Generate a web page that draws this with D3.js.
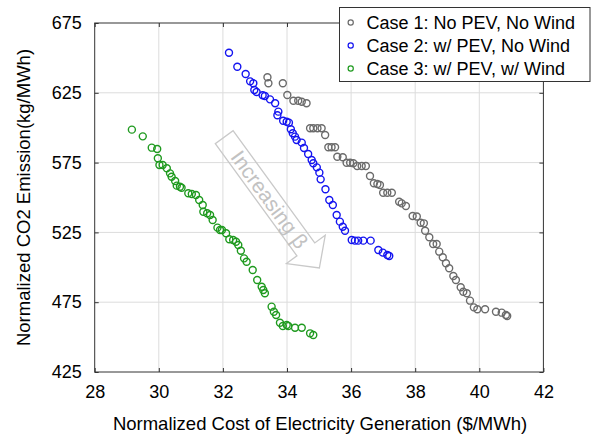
<!DOCTYPE html>
<html>
<head>
<meta charset="utf-8">
<script src="https://cdn.jsdelivr.net/npm/d3@7"></script>
<style>
  html, body { margin: 0; padding: 0; background: #fff; }
  svg { display: block; font-family: "Liberation Sans", Arial, sans-serif; }
</style>
</head>
<body>
<svg id="chart" width="597" height="437"></svg>
<script>
// Normalized cost ($/MWh) and CO2 emission (kg/MWh) for the three cases
const case1Cost = [33.39, 33.42, 33.87, 34.01, 34.20, 34.35, 34.46, 34.61, 34.72, 34.82, 34.95, 35.08, 35.19, 35.29, 35.39, 35.50, 35.57, 35.74, 35.86, 35.97, 36.07, 36.19, 36.33, 36.46, 36.59, 36.71, 36.82, 36.90, 37.00, 37.13, 37.27, 37.50, 37.58, 37.71, 37.92, 38.05, 38.17, 38.27, 38.31, 38.44, 38.56, 38.67, 38.75, 38.86, 38.96, 39.06, 39.19, 39.27, 39.42, 39.50, 39.61, 39.71, 39.83, 39.94, 40.18, 40.52, 40.70, 40.83, 40.87];
const case1Emission = [636.1, 631.8, 631.8, 623.4, 619.3, 619.3, 618.6, 617.5, 599.6, 599.6, 599.6, 599.6, 594.8, 586.0, 586.0, 586.0, 579.2, 578.8, 574.9, 574.9, 574.5, 572.6, 572.6, 572.6, 565.4, 560.2, 559.7, 559.0, 553.4, 553.4, 553.4, 547.0, 545.8, 543.9, 536.7, 536.4, 531.9, 531.5, 526.2, 521.5, 516.7, 516.7, 511.2, 507.2, 502.9, 499.3, 493.8, 490.9, 485.7, 482.5, 481.4, 476.1, 471.3, 469.9, 469.9, 468.2, 467.5, 465.8, 465.1];

const case2Cost = [32.19, 32.45, 32.71, 32.85, 32.95, 32.98, 33.05, 33.24, 33.31, 33.47, 33.63, 33.73, 33.70, 33.88, 33.99, 34.06, 34.12, 34.18, 34.25, 34.30, 34.46, 34.53, 34.66, 34.77, 34.82, 34.93, 35.01, 35.05, 35.20, 35.32, 35.43, 35.55, 35.65, 35.74, 35.81, 36.02, 36.12, 36.22, 36.38, 36.61, 36.85, 36.99, 37.13, 37.19];
const case2Emission = [653.7, 643.7, 638.5, 633.2, 631.8, 627.0, 625.6, 623.2, 622.7, 620.3, 617.5, 611.5, 608.9, 605.0, 604.3, 603.6, 598.9, 596.0, 593.6, 591.2, 589.3, 585.5, 581.2, 576.9, 574.5, 571.6, 567.8, 563.0, 555.9, 548.2, 544.6, 537.5, 532.7, 529.1, 526.2, 519.6, 519.1, 519.1, 519.1, 519.1, 512.4, 510.5, 508.8, 508.1];

const case3Cost = [29.16, 29.50, 29.78, 29.95, 29.97, 30.02, 30.12, 30.25, 30.35, 30.40, 30.51, 30.56, 30.66, 30.71, 30.92, 31.03, 31.16, 31.26, 31.37, 31.39, 31.51, 31.60, 31.68, 31.83, 31.91, 31.97, 32.10, 32.20, 32.32, 32.41, 32.48, 32.56, 32.66, 32.74, 32.93, 33.07, 33.21, 33.26, 33.31, 33.52, 33.59, 33.66, 33.78, 33.87, 33.99, 34.04, 34.25, 34.46, 34.72, 34.82];
const case3Emission = [598.6, 593.8, 585.7, 584.7, 578.1, 573.3, 573.3, 570.9, 567.3, 564.9, 561.8, 558.5, 557.7, 557.0, 553.0, 552.5, 551.8, 548.2, 544.6, 539.8, 538.7, 537.5, 533.9, 528.4, 526.7, 526.7, 524.4, 520.1, 519.6, 518.3, 516.0, 511.9, 506.4, 504.0, 498.1, 490.9, 486.1, 483.7, 481.4, 471.8, 468.2, 465.8, 460.3, 458.0, 458.7, 458.0, 456.7, 456.7, 452.7, 451.5];

const seriesNames = ["Case 1: No PEV, No Wind", "Case 2: w/ PEV, No Wind", "Case 3: w/ PEV, w/ Wind"];
const xTicks = [28, 30, 32, 34, 36, 38, 40, 42];
const yTicks = [425, 475, 525, 575, 625, 675];
const annotationText = "Increasing β";

const colors = ["#6b6b6b", "#1414f0", "#1f9a1f"];
const series = [
  { name: seriesNames[0], color: colors[0], pts: case1Cost.map((c, i) => [c, case1Emission[i]]) },
  { name: seriesNames[1], color: colors[1], pts: case2Cost.map((c, i) => [c, case2Emission[i]]) },
  { name: seriesNames[2], color: colors[2], pts: case3Cost.map((c, i) => [c, case3Emission[i]]) }
];

const svg = d3.select("#chart");
const plotLeft = 94.7, plotRight = 543.4, plotTop = 23, plotBottom = 372;
const x = d3.scaleLinear().domain([28, 42]).range([plotLeft, plotRight]);
const y = d3.scaleLinear().domain([425, 675]).range([plotBottom, plotTop]);

// grid
const grid = svg.append("g").attr("stroke", "#dcdcdc").attr("stroke-width", 1);
grid.selectAll("line.gx").data(xTicks.slice(1, -1)).join("line").attr("class", "gx")
  .attr("x1", d => x(d)).attr("x2", d => x(d)).attr("y1", plotTop).attr("y2", plotBottom);
grid.selectAll("line.gy").data(yTicks.slice(1, -1)).join("line").attr("class", "gy")
  .attr("x1", plotLeft).attr("x2", plotRight).attr("y1", d => y(d)).attr("y2", d => y(d));

// axes with inward ticks and labels
const fontSize = 18;
const xAxis = d3.axisBottom(x).tickValues(xTicks).tickSize(-4).tickPadding(13);
svg.append("g").attr("transform", `translate(0,${plotBottom})`).call(xAxis);
const yAxis = d3.axisLeft(y).tickValues(yTicks).tickSize(-4).tickPadding(13);
svg.append("g").attr("transform", `translate(${plotLeft},0)`).call(yAxis);
const xTopAxis = d3.axisTop(x).tickValues(xTicks).tickSize(-4).tickFormat("");
svg.append("g").attr("transform", `translate(0,${plotTop})`).call(xTopAxis);
const yRightAxis = d3.axisRight(y).tickValues(yTicks).tickSize(-4).tickFormat("");
svg.append("g").attr("transform", `translate(${plotRight},0)`).call(yRightAxis);
svg.selectAll(".domain").remove();
svg.selectAll(".tick line").attr("stroke", "#333");
svg.selectAll(".tick text").attr("font-size", fontSize).attr("fill", "#000")
  .attr("font-family", "'Liberation Sans', Arial, sans-serif");

// frame
svg.append("rect").attr("x", plotLeft).attr("y", plotTop)
  .attr("width", plotRight - plotLeft).attr("height", plotBottom - plotTop)
  .attr("fill", "none").attr("stroke", "#333").attr("stroke-width", 1);

// increasing-beta block arrow
const arrowStart = [x(32.04), y(593.2)];
const arrowTip = [x(35.01), y(499.5)];
const adx = arrowTip[0] - arrowStart[0], ady = arrowTip[1] - arrowStart[1];
const arrowLen = Math.hypot(adx, ady);
const arrowAngle = Math.atan2(ady, adx) * 180 / Math.PI;
const headLen = 23, shaftHalf = 11, headHalf = 24;
const shaftLen = arrowLen - headLen;
const arrowG = svg.append("g")
  .attr("transform", `translate(${arrowStart[0]},${arrowStart[1]}) rotate(${arrowAngle})`);
arrowG.append("path")
  .attr("d", d3.line()([[0, -shaftHalf], [shaftLen, -shaftHalf], [shaftLen, -headHalf], [arrowLen, 0],
    [shaftLen, headHalf], [shaftLen, shaftHalf], [0, shaftHalf]]) + "Z")
  .attr("fill", "none").attr("stroke", "#c9c9c9").attr("stroke-width", 1.3);
arrowG.append("text")
  .attr("x", 77).attr("y", 0).attr("dy", "0.35em")
  .attr("text-anchor", "middle").attr("font-size", 21).attr("fill", "#c2c2c2")
  .text(annotationText);

// markers
series.forEach(s => {
  svg.append("g").selectAll("circle").data(s.pts).join("circle")
    .attr("cx", d => x(d[0])).attr("cy", d => y(d[1])).attr("r", 3.5)
    .attr("fill", "none").attr("stroke", s.color).attr("stroke-width", 1.4);
});

// axis titles
svg.append("text").attr("x", (plotLeft + plotRight) / 2 + 1).attr("y", 430)
  .attr("text-anchor", "middle").attr("font-size", 18.5).attr("fill", "#000")
  .text("Normalized Cost of Electricity Generation ($/MWh)");
svg.append("text").attr("transform", `translate(30,${(plotTop + plotBottom) / 2}) rotate(-90)`)
  .attr("text-anchor", "middle").attr("font-size", 18.5).attr("fill", "#000")
  .text("Normalized CO2 Emission(kg/MWh)");

// legend
const lg = svg.append("g");
lg.append("rect").attr("x", 339.5).attr("y", 7.5).attr("width", 250.5).attr("height", 74)
  .attr("fill", "#fff").attr("stroke", "#333").attr("stroke-width", 1);
series.forEach((s, i) => {
  const cy = 22.5 + i * 23;
  lg.append("circle").attr("cx", 350.7).attr("cy", cy).attr("r", 2.6)
    .attr("fill", "none").attr("stroke", s.color).attr("stroke-width", 1.2);
  lg.append("text").attr("x", 366.5).attr("y", cy).attr("dy", "0.35em")
    .attr("font-size", fontSize).attr("fill", "#000").text(s.name);
});
</script>
</body>
</html>
